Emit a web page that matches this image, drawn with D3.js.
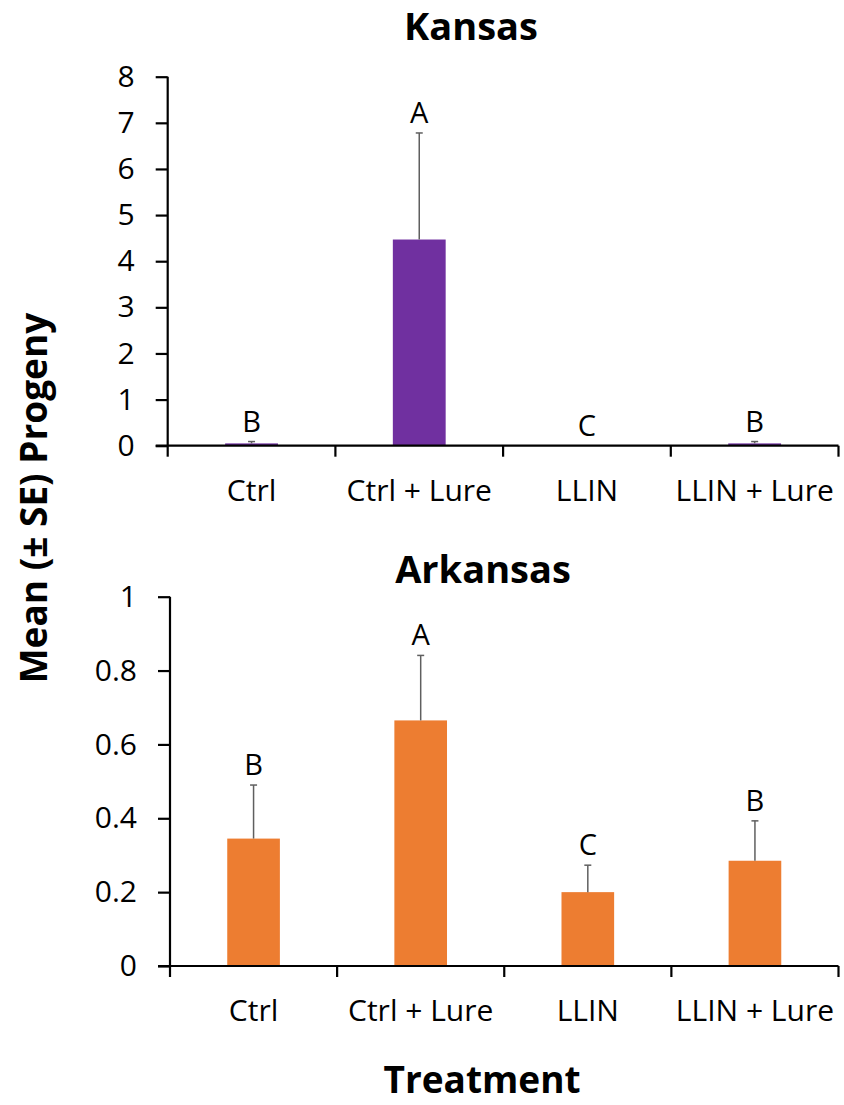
<!DOCTYPE html>
<html>
<head>
<meta charset="utf-8">
<script src="https://cdn.jsdelivr.net/npm/d3@7"></script>
<style>
  body { margin: 0; background: #fff; }
  svg { display: block; font-family: "Open Sans", sans-serif; }
</style>
</head>
<body>
<svg id="chart" width="844" height="1105"></svg>
<script>
// Treatments shared by both sites
const treatments = ["Ctrl", "Ctrl + Lure", "LLIN", "LLIN + Lure"];

// Kansas: mean progeny, standard error, significance letters
const kansasMeans = [0.05, 4.47, 0, 0.05];
const kansasSE = [0.04, 2.31, 0, 0.04];
const kansasLetters = ["B", "A", "C", "B"];
const kansasTicks = [0, 1, 2, 3, 4, 5, 6, 7, 8];

// Arkansas: mean progeny, standard error, significance letters
const arkansasMeans = [0.345, 0.665, 0.20, 0.285];
const arkansasSE = [0.145, 0.176, 0.073, 0.108];
const arkansasLetters = ["B", "A", "C", "B"];
const arkansasTicks = [0, 0.2, 0.4, 0.6, 0.8, 1];

const tickFont = 30;
const svg = d3.select("#chart");

function panel(opts) {
  const { title, titleX, titleY, means, se, letters, ticks, yMax,
          left, right, top, bottom, color, fmt } = opts;

  const x = d3.scaleBand().domain(treatments).range([left, right]).padding(0);
  const y = d3.scaleLinear().domain([0, yMax]).range([bottom, top]);
  const barW = x.bandwidth() * 0.315;

  const g = svg.append("g");

  // panel title
  g.append("text")
    .attr("x", titleX).attr("y", titleY)
    .attr("text-anchor", "middle")
    .attr("font-weight", "bold")
    .attr("font-size", 38)
    .text(title);

  // bars
  g.selectAll("rect.bar")
    .data(treatments)
    .join("rect")
    .attr("class", "bar")
    .attr("x", d => x(d) + x.bandwidth() / 2 - barW / 2)
    .attr("width", barW)
    .attr("y", (d, i) => y(means[i]))
    .attr("height", (d, i) => y(0) - y(means[i]))
    .attr("fill", color);

  // upper error bars
  const eb = g.selectAll("g.err")
    .data(treatments.filter((d, i) => se[i] > 0))
    .join("g")
    .attr("class", "err")
    .attr("stroke", "#5f5f5f")
    .attr("stroke-width", 1.5);
  eb.append("line")
    .attr("x1", d => x(d) + x.bandwidth() / 2)
    .attr("x2", d => x(d) + x.bandwidth() / 2)
    .attr("y1", d => y(means[treatments.indexOf(d)]))
    .attr("y2", d => { const i = treatments.indexOf(d); return y(means[i] + se[i]); });
  eb.append("line")
    .attr("x1", d => x(d) + x.bandwidth() / 2 - 3.5)
    .attr("x2", d => x(d) + x.bandwidth() / 2 + 3.5)
    .attr("y1", d => { const i = treatments.indexOf(d); return y(means[i] + se[i]); })
    .attr("y2", d => { const i = treatments.indexOf(d); return y(means[i] + se[i]); });

  // significance letters
  g.selectAll("text.letter")
    .data(treatments)
    .join("text")
    .attr("class", "letter")
    .attr("x", d => x(d) + x.bandwidth() / 2)
    .attr("y", (d, i) => y(means[i] + se[i]) - 10)
    .attr("text-anchor", "middle")
    .attr("font-size", 29)
    .text((d, i) => letters[i]);

  // y axis
  const yAxis = g.append("g")
    .attr("transform", `translate(${left},0)`)
    .call(d3.axisLeft(y).tickValues(ticks).tickFormat(fmt).tickSize(12).tickPadding(21));
  yAxis.select(".domain").attr("stroke", "#000").attr("stroke-width", 2.2)
    .attr("d", `M0,${bottom}V${top}`);
  yAxis.selectAll(".tick line").attr("stroke", "#000").attr("stroke-width", 2.2);
  yAxis.selectAll(".tick text").attr("font-size", tickFont).attr("fill", "#000")
    .attr("font-family", "Open Sans, sans-serif");

  // x axis: labels centred in each band, ticks on band boundaries
  const xAxis = g.append("g")
    .attr("transform", `translate(0,${bottom})`)
    .call(d3.axisBottom(x).tickSize(0).tickPadding(34));
  xAxis.select(".domain").attr("stroke", "#000").attr("stroke-width", 2.2)
    .attr("d", `M${left - 12},0H${right}`);
  xAxis.selectAll(".tick text").attr("font-size", tickFont).attr("fill", "#000")
    .attr("font-family", "Open Sans, sans-serif");

  const bounds = treatments.map(d => x(d)).concat([x(treatments[treatments.length - 1]) + x.bandwidth()]);
  g.append("g")
    .selectAll("line")
    .data(bounds)
    .join("line")
    .attr("x1", d => d).attr("x2", d => d)
    .attr("y1", bottom).attr("y2", bottom + 11)
    .attr("stroke", "#000").attr("stroke-width", 2.2);
}

panel({
  title: "Kansas", titleX: 471, titleY: 40,
  means: kansasMeans, se: kansasSE, letters: kansasLetters,
  ticks: kansasTicks, yMax: 8, fmt: d3.format("d"),
  left: 167.7, right: 838.5, top: 76.7, bottom: 445.7, color: "#7030a0"
});

panel({
  title: "Arkansas", titleX: 483, titleY: 583,
  means: arkansasMeans, se: arkansasSE, letters: arkansasLetters,
  ticks: arkansasTicks, yMax: 1, fmt: d => d3.format("")(+d.toFixed(1)),
  left: 170, right: 838.5, top: 596.7, bottom: 966, color: "#ed7d31"
});

// shared axis titles
svg.append("text")
  .attr("x", 482).attr("y", 1093)
  .attr("text-anchor", "middle")
  .attr("font-weight", "bold")
  .attr("font-size", 37)
  .text("Treatment");

svg.append("text")
  .attr("transform", "translate(47,498) rotate(-90)")
  .attr("text-anchor", "middle")
  .attr("font-weight", "bold")
  .attr("font-size", 37)
  .text("Mean (± SE) Progeny");
</script>
</body>
</html>
